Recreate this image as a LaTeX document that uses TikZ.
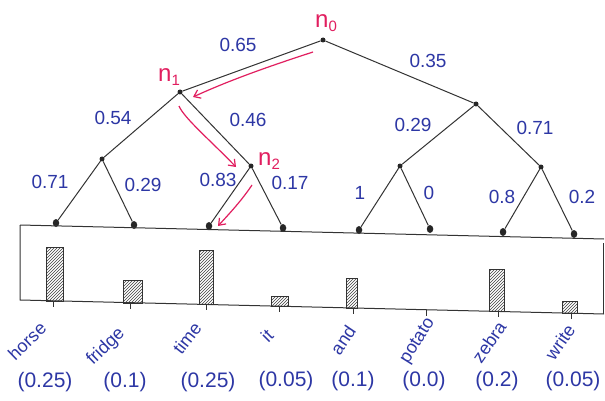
\documentclass[tikz,border=0pt]{standalone}
\usepackage{fontspec}
\setmainfont{Liberation Sans}
\usetikzlibrary{arrows.meta,patterns,shapes.geometric}
\definecolor{inkblue}{RGB}{45,55,165}
\definecolor{inkred}{RGB}{225,30,95}
\newcommand{\nsub}[1]{n\raisebox{-4pt}{\fontsize{15}{15}\selectfont #1}}
\begin{document}
\begin{tikzpicture}[x=1pt,y=-1pt,
  tdot/.style={circle,fill=black!85,inner sep=0pt,minimum size=5pt},
  ldot/.style={ellipse,fill=black!85,inner sep=0pt,minimum width=6.5pt,minimum height=8pt},
  branch/.style={line width=1pt,black!80},
  plab/.style={text=inkblue,font=\fontsize{19}{22}\selectfont,inner sep=0pt},
  nlab/.style={text=inkred,font=\fontsize{24}{26}\selectfont,inner sep=0pt},
  wlab/.style={text=inkblue,font=\fontsize{18}{20}\selectfont,inner sep=0pt},
  vlab/.style={text=inkblue,font=\fontsize{21}{24}\selectfont,inner sep=0pt},
  patharrow/.style={inkred,line width=1.2pt,-{Straight Barb[length=6pt,width=9pt]}},
  boxline/.style={line width=1pt,black!80},
  bar/.style={draw=black!80,line width=0.8pt,pattern=north east lines,pattern color=black!75},
  tick/.style={line width=0.8pt,black!80}
]
\useasboundingbox (0,0) rectangle (605,401);
\fill[white] (0,0) rectangle (605,401);

% tree nodes
\node[tdot] (n0) at (323,40) {};
\node[tdot] (n1) at (180,92) {};
\node[tdot] (r) at (476,104) {};
\node[tdot] (a) at (102,159) {};
\node[tdot] (n2) at (251,166) {};
\node[tdot] (b) at (400,166) {};
\node[tdot] (c) at (541,167) {};
\node[ldot] (l1) at (56,223) {};
\node[ldot] (l2) at (134,225) {};
\node[ldot] (l3) at (209,226) {};
\node[ldot] (l4) at (283,228) {};
\node[ldot] (l5) at (359,230) {};
\node[ldot] (l6) at (430,229) {};
\node[ldot] (l7) at (503,232) {};
\node[ldot] (l8) at (574,234) {};

% branches
\draw[branch] (n0) -- (n1);
\draw[branch] (n0) -- (r);
\draw[branch] (n1) -- (a);
\draw[branch] (n1) -- (n2);
\draw[branch] (r) -- (b);
\draw[branch] (r) -- (c);
\draw[branch] (a) -- (l1);
\draw[branch] (a) -- (l2);
\draw[branch] (n2) -- (l3);
\draw[branch] (n2) -- (l4);
\draw[branch] (b) -- (l5);
\draw[branch] (b) -- (l6);
\draw[branch] (c) -- (l7);
\draw[branch] (c) -- (l8);

% node labels
\node[nlab] (t0) at (326,23) {\nsub{0}};
\node[nlab] (t1) at (169,77) {\nsub{1}};
\node[nlab] (t2) at (269,161) {\nsub{2}};

% branch probabilities
\node[plab] (p1) at (238,45) {0.65};
\node[plab] (p2) at (428,61) {0.35};
\node[plab] (p3) at (113,118) {0.54};
\node[plab] (p4) at (248,120) {0.46};
\node[plab] (p5) at (413,125) {0.29};
\node[plab] (p6) at (535,128) {0.71};
\node[plab] (p7) at (50,182) {0.71};
\node[plab] (p8) at (143,185) {0.29};
\node[plab] (p9) at (218,180) {0.83};
\node[plab] (p10) at (290,183) {0.17};
\node[plab] (p11) at (360,193) {1};
\node[plab] (p12) at (429,193) {0};
\node[plab] (p13) at (502,197) {0.8};
\node[plab] (p14) at (582,197) {0.2};

% red path arrows
\draw[patharrow] (313,52) .. controls (270,66) and (230,80) .. (193,97);
\draw[patharrow] (179,106) .. controls (184,118) and (210,140) .. (236,167);
\draw[patharrow] (252,185) .. controls (242,200) and (230,213) .. (218,226);

% box
\coordinate (tl) at (20,225);
\coordinate (tr) at (604,239);
\coordinate (bl) at (20,300);
\coordinate (br) at (604,314);
\coordinate (rt) at (603,243);
\coordinate (rb) at (603,314);
\draw[boxline] (tl) -- (tr);
\draw[boxline] (tl) -- (bl) -- (br);
\draw[boxline] (rt) -- (rb);

% bars
\draw[bar] (46,301) rectangle (63,247);
\draw[bar] (123,303) rectangle (142,280);
\draw[bar] (199,304.5) rectangle (213,250);
\draw[bar] (271,306.5) rectangle (288,296);
\draw[bar] (346,308) rectangle (357,278);
\draw[bar] (489,311.5) rectangle (504,269);
\draw[bar] (562,313) rectangle (577,301);

% ticks
\foreach \tx in {53,130,206,279,353,426,498,571}{
  \draw[tick] (\tx,{300+0.024*(\tx-20)}) -- (\tx,{306+0.024*(\tx-20)});
}

% words
\node[wlab,rotate=44] (w1) at (27,341) {horse};
\node[wlab,rotate=44] (w2) at (106,347) {fridge};
\node[wlab,rotate=52] (w3) at (187,338) {time};
\node[wlab,rotate=45] (w4) at (267,336) {it};
\node[wlab,rotate=56] (w5) at (343,340) {and};
\node[wlab,rotate=58] (w6) at (418,341) {potato};
\node[wlab,rotate=55] (w7) at (489,342) {zebra};
\node[wlab,rotate=55] (w8) at (560,342) {write};

% values
\node[vlab] (v1) at (45,382) {(0.25)};
\node[vlab] (v2) at (125,382) {(0.1)};
\node[vlab] (v3) at (208,382) {(0.25)};
\node[vlab] (v4) at (286,381) {(0.05)};
\node[vlab] (v5) at (353,381) {(0.1)};
\node[vlab] (v6) at (424,381) {(0.0)};
\node[vlab] (v7) at (497,381) {(0.2)};
\node[vlab] (v8) at (573,381) {(0.05)};
\end{tikzpicture}
\end{document}
